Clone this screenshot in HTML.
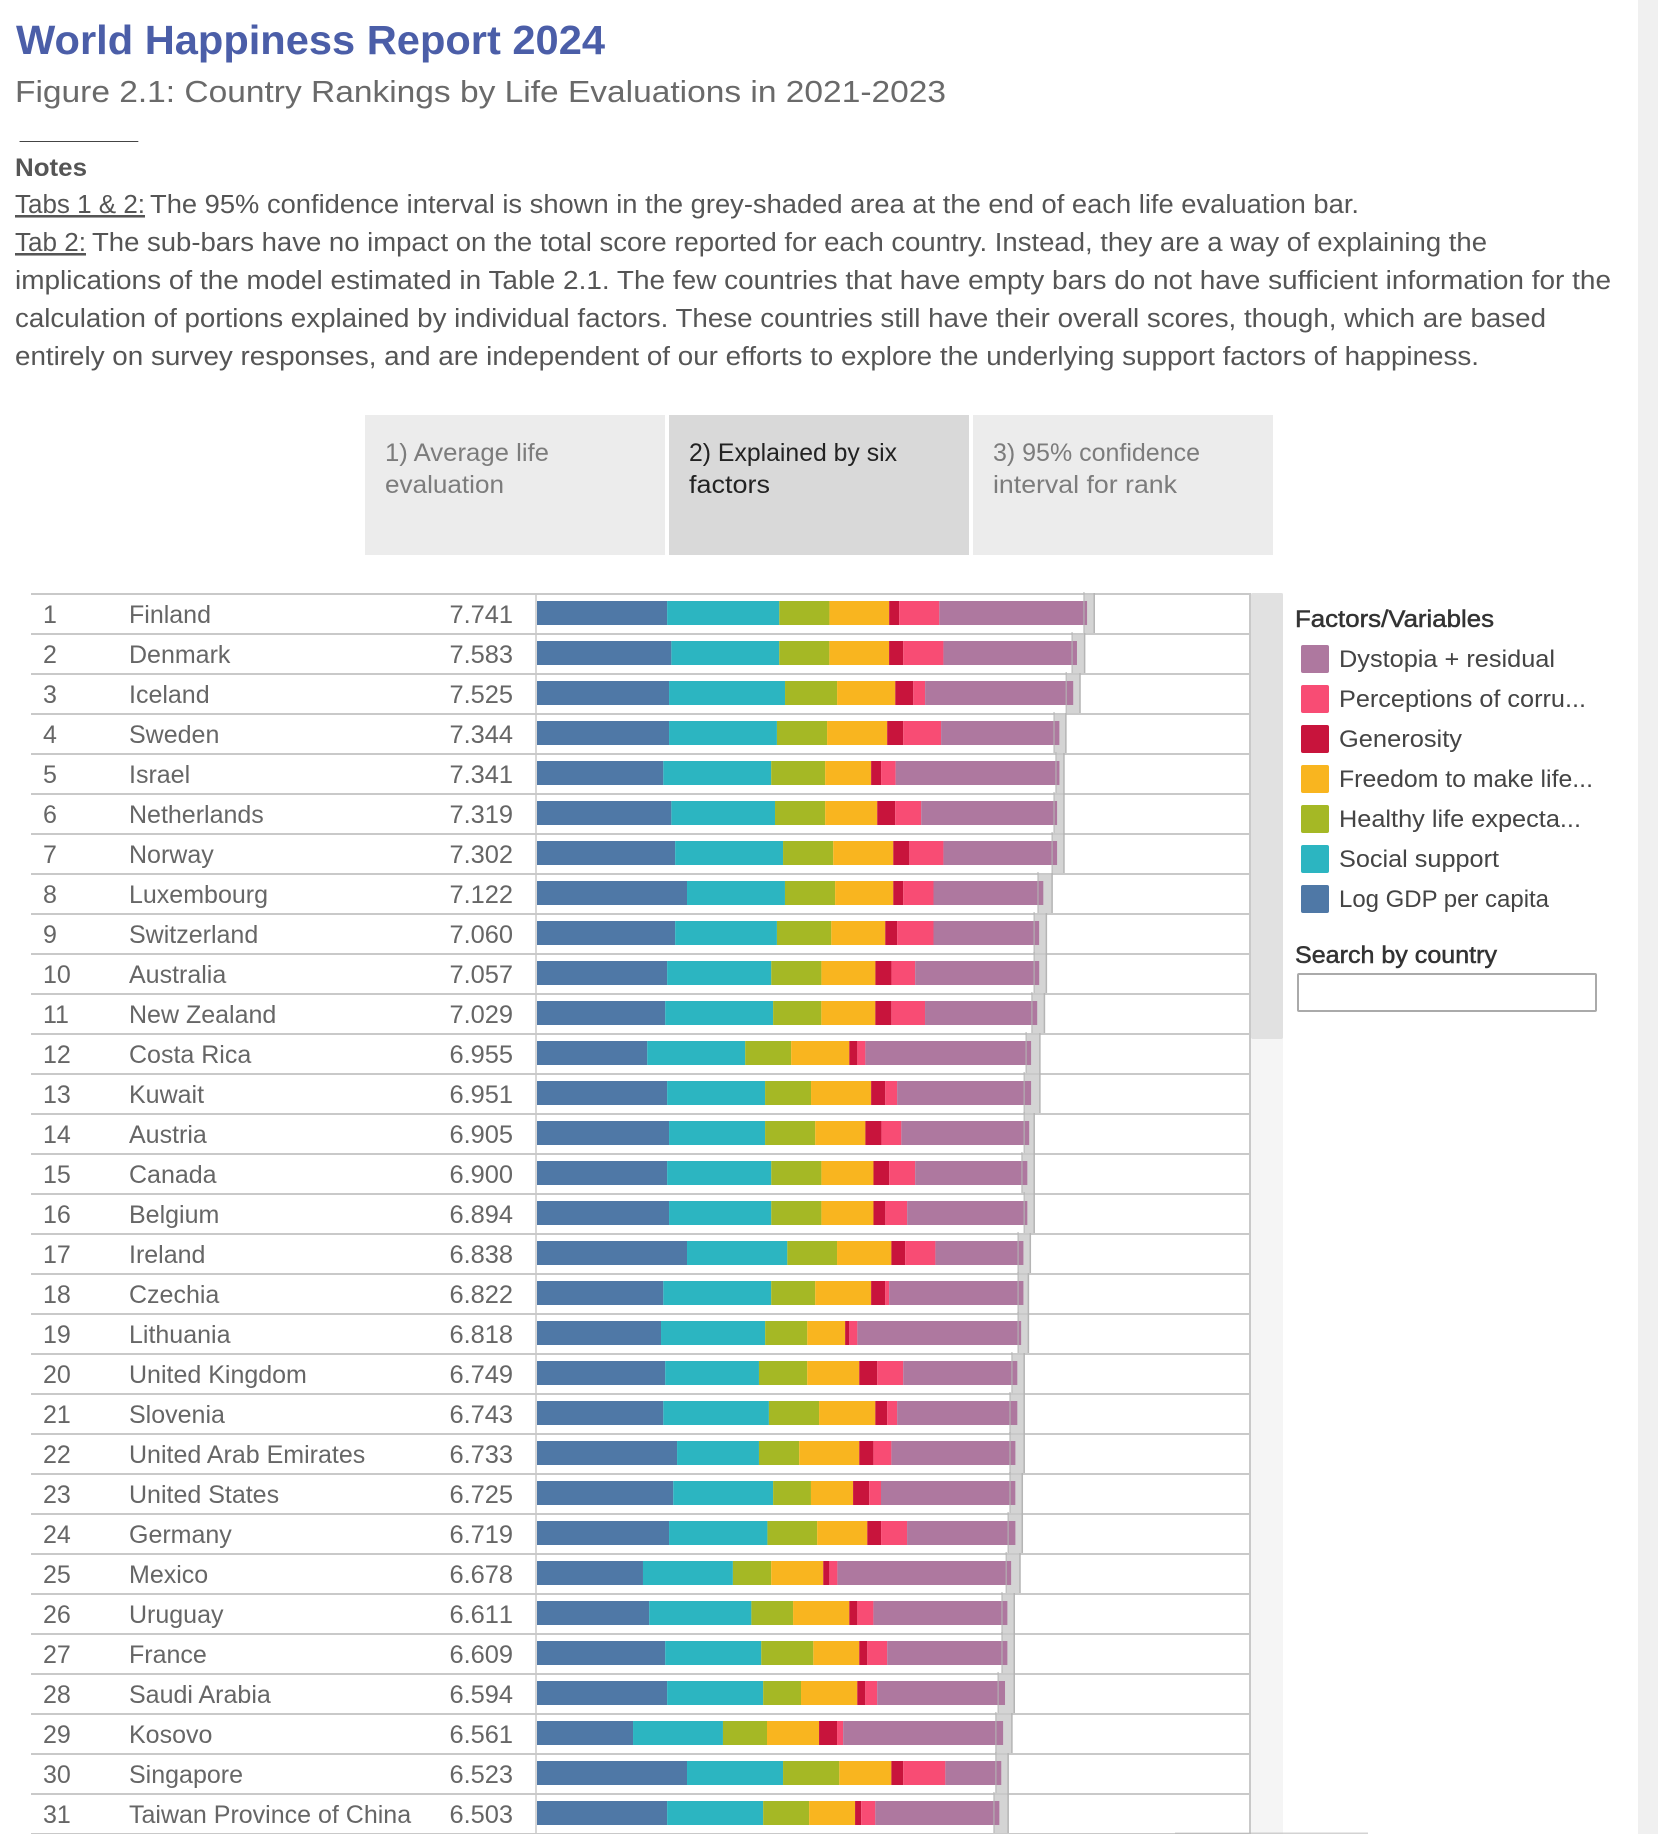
<!DOCTYPE html>
<html lang="en">
<head>
<meta charset="utf-8">
<title>World Happiness Report 2024</title>
<style>
html,body{margin:0;padding:0;background:#fff;}
#page{position:relative;width:1658px;height:1834px;overflow:hidden;background:#fff;font-family:"Liberation Sans",sans-serif;}
#page svg{position:absolute;left:0;top:0;display:block;}
#page svg text{font-family:"Liberation Sans",sans-serif;}
#search-input{position:absolute;left:1297px;top:973px;width:300px;height:39px;box-sizing:border-box;border:2px solid #aaa;border-radius:2px;background:#fff;padding:0 6px;outline:none;font:22px "Liberation Sans",sans-serif;}
</style>
</head>
<body>
<div id="page">
<svg id="chart" width="1658" height="1834" viewBox="0 0 1658 1834" xmlns="http://www.w3.org/2000/svg">
  <rect x="1638" y="0" width="20" height="1834" fill="#f0f0f0"/>

  <text x="16" y="54" font-size="41" font-weight="700" fill="#4b5ea8" textLength="589" lengthAdjust="spacingAndGlyphs">World Happiness Report 2024</text>
  <text x="15" y="102" font-size="31" fill="#6a6a6a" textLength="931" lengthAdjust="spacingAndGlyphs">Figure 2.1: Country Rankings by Life Evaluations in 2021-2023</text>
  <text x="20" y="139" font-size="16" fill="#444" textLength="118" lengthAdjust="spacingAndGlyphs">_______</text>
  <text x="15" y="176" font-size="25" font-weight="700" fill="#555" textLength="72" lengthAdjust="spacingAndGlyphs">Notes</text>

  <g font-size="25.5" fill="#555">
    <text x="15" y="213" text-decoration="underline" textLength="130" lengthAdjust="spacingAndGlyphs">Tabs 1 &amp; 2:</text>
    <text x="150" y="213" textLength="1209" lengthAdjust="spacingAndGlyphs">The 95% confidence interval is shown in the grey-shaded area at the end of each life evaluation bar.</text>
    <text x="15" y="251" text-decoration="underline" textLength="71" lengthAdjust="spacingAndGlyphs">Tab 2:</text>
    <text x="92" y="251" textLength="1395" lengthAdjust="spacingAndGlyphs">The sub-bars have no impact on the total score reported for each country. Instead, they are a way of explaining the</text>
    <text x="15" y="289" textLength="1596" lengthAdjust="spacingAndGlyphs">implications of the model estimated in Table 2.1. The few countries that have empty bars do not have sufficient information for the</text>
    <text x="15" y="327" textLength="1531" lengthAdjust="spacingAndGlyphs">calculation of portions explained by individual factors. These countries still have their overall scores, though, which are based</text>
    <text x="15" y="365" textLength="1464" lengthAdjust="spacingAndGlyphs">entirely on survey responses, and are independent of our efforts to explore the underlying support factors of happiness.</text>
  </g>

  <g>
    <rect x="365" y="415" width="300" height="140" fill="#ececec"/>
    <text x="385" y="461" font-size="25" fill="#7c7c7c" textLength="164" lengthAdjust="spacingAndGlyphs">1) Average life</text>
    <text x="385" y="493" font-size="25" fill="#7c7c7c" textLength="119" lengthAdjust="spacingAndGlyphs">evaluation</text>
  </g>
  <g>
    <rect x="669" y="415" width="300" height="140" fill="#d9d9d9"/>
    <text x="689" y="461" font-size="25" fill="#222" textLength="208" lengthAdjust="spacingAndGlyphs">2) Explained by six</text>
    <text x="689" y="493" font-size="25" fill="#222" textLength="81" lengthAdjust="spacingAndGlyphs">factors</text>
  </g>
  <g>
    <rect x="973" y="415" width="300" height="140" fill="#ececec"/>
    <text x="993" y="461" font-size="25" fill="#7c7c7c" textLength="207" lengthAdjust="spacingAndGlyphs">3) 95% confidence</text>
    <text x="993" y="493" font-size="25" fill="#7c7c7c" textLength="184" lengthAdjust="spacingAndGlyphs">interval for rank</text>
  </g>

  <rect x="1251" y="593" width="32" height="1241" fill="#f5f5f5"/>
  <rect x="1251" y="593" width="32" height="446" rx="2" fill="#e1e1e1"/>

  <g id="plot"></g>

  <text x="1295" y="627" font-size="24" fill="#333" stroke="#333" stroke-width="0.5" textLength="199" lengthAdjust="spacingAndGlyphs">Factors/Variables</text>
  <g id="legend"></g>
  <text x="1295" y="963" font-size="24" fill="#333" stroke="#333" stroke-width="0.5" textLength="202" lengthAdjust="spacingAndGlyphs">Search by country</text>

  <rect x="1175" y="1832.5" width="193" height="1.5" fill="#b5b5b5" opacity="0.6"/>
</svg>
<input id="search-input" type="text" aria-label="Search by country">
</div>

<script>
var countries = ["Finland","Denmark","Iceland","Sweden","Israel","Netherlands","Norway","Luxembourg","Switzerland","Australia","New Zealand","Costa Rica","Kuwait","Austria","Canada","Belgium","Ireland","Czechia","Lithuania","United Kingdom","Slovenia","United Arab Emirates","United States","Germany","Mexico","Uruguay","France","Saudi Arabia","Kosovo","Singapore","Taiwan Province of China"];
var scores = [7.741,7.583,7.525,7.344,7.341,7.319,7.302,7.122,7.060,7.057,7.029,6.955,6.951,6.905,6.900,6.894,6.838,6.822,6.818,6.749,6.743,6.733,6.725,6.719,6.678,6.611,6.609,6.594,6.561,6.523,6.503];
var logGdp = [1.832,1.891,1.859,1.859,1.778,1.891,1.945,2.112,1.945,1.832,1.805,1.552,1.832,1.859,1.832,1.859,2.112,1.778,1.746,1.805,1.778,1.972,1.918,1.859,1.492,1.579,1.805,1.832,1.352,2.112,1.832];
var socialSupport = [1.579,1.519,1.633,1.519,1.519,1.460,1.519,1.379,1.433,1.466,1.519,1.379,1.379,1.352,1.466,1.439,1.412,1.519,1.466,1.320,1.487,1.153,1.406,1.385,1.266,1.439,1.352,1.352,1.266,1.352,1.352];
var healthyLife = [0.706,0.706,0.733,0.706,0.760,0.706,0.706,0.706,0.765,0.706,0.679,0.647,0.647,0.706,0.706,0.706,0.700,0.620,0.593,0.679,0.706,0.566,0.533,0.700,0.539,0.587,0.733,0.533,0.620,0.792,0.647];
var freedom = [0.841,0.841,0.819,0.846,0.647,0.733,0.846,0.819,0.760,0.760,0.760,0.819,0.846,0.706,0.733,0.733,0.765,0.787,0.533,0.733,0.792,0.846,0.593,0.706,0.733,0.792,0.647,0.792,0.733,0.733,0.647];
var generosity = [0.140,0.199,0.253,0.226,0.140,0.253,0.226,0.140,0.167,0.226,0.226,0.113,0.199,0.226,0.221,0.167,0.194,0.199,0.059,0.253,0.167,0.199,0.226,0.194,0.086,0.113,0.113,0.113,0.253,0.167,0.086];
var corruption = [0.566,0.566,0.167,0.533,0.205,0.366,0.480,0.426,0.512,0.334,0.474,0.113,0.167,0.280,0.366,0.307,0.426,0.054,0.113,0.366,0.140,0.253,0.167,0.366,0.113,0.226,0.280,0.167,0.086,0.593,0.199];
var dystopia = [2.080,1.880,2.085,1.665,2.306,1.913,1.600,1.546,1.487,1.746,1.579,2.333,1.886,1.800,1.579,1.692,1.239,1.891,2.306,1.606,1.692,1.746,1.891,1.525,2.446,1.886,1.692,1.800,2.252,0.787,1.746];
var ciLow = [7.700,7.533,7.451,7.279,7.306,7.279,7.252,7.053,6.999,6.999,6.967,6.886,6.859,6.859,6.827,6.859,6.773,6.773,6.773,6.686,6.659,6.659,6.659,6.633,6.606,6.546,6.546,6.492,6.460,6.460,6.433];
var ciHigh = [7.845,7.710,7.645,7.446,7.419,7.419,7.419,7.252,7.171,7.171,7.144,7.080,7.080,7.000,7.000,7.000,6.945,6.918,6.918,6.859,6.859,6.859,6.832,6.832,6.800,6.719,6.719,6.719,6.686,6.633,6.633];
var factorNames = ["Log GDP per capita","Social support","Healthy life expectancy","Freedom to make life choices","Generosity","Perceptions of corruption","Dystopia + residual"];
var factorSlugs = ["log-gdp","social-support","healthy-life","freedom","generosity","corruption","dystopia"];
var legendLabels = ["Dystopia + residual","Perceptions of corru...","Generosity","Freedom to make life...","Healthy life expecta...","Social support","Log GDP per capita"];
var legendWidths = [216,247,123,254,242,160,210];

var factorColors = ["#4f78a6","#2cb5c1","#a5b825","#f9b51f","#c8143c","#f84c74","#ae789f"];
var legendColors = ["#ae789f","#f84c74","#c8143c","#f9b51f","#a5b825","#2cb5c1","#4f78a6"];
var factorSeries = [logGdp, socialSupport, healthyLife, freedom, generosity, corruption, dystopia];

var SVGNS = "http://www.w3.org/2000/svg";
var TABLE_LEFT = 31, AXIS_X = 536, BAR_X0 = 537, TABLE_RIGHT = 1250;
var ROW_TOP = 594, ROW_H = 40, BAR_OFFSET = 7, BAR_H = 24, PX_PER_UNIT = 71.03;

function xScale(v) { return BAR_X0 + v * PX_PER_UNIT; }
function rowY(i) { return ROW_TOP + i * ROW_H; }

function shape(parent, tag, attrs) {
  var el = document.createElementNS(SVGNS, tag);
  for (var k in attrs) { el.setAttribute(k, attrs[k]); }
  parent.appendChild(el);
  return el;
}

var plot = document.getElementById("plot");

countries.forEach(function (name, i) {
  var top = rowY(i);
  var row = shape(plot, "g", {});
  
  

  var lowX = xScale(ciLow[i]);
  var highX = xScale(ciHigh[i]);
  var band = shape(row, "rect", { x: lowX, y: top, width: highX - lowX, height: ROW_H, fill: "#d4d4d4" });
  
  

  var rule = shape(row, "rect", { x: TABLE_LEFT, y: top - 1, width: TABLE_RIGHT - TABLE_LEFT, height: 2, fill: "#c9c9c9" });
  
  

  var cumulative = 0;
  factorSeries.forEach(function (series, f) {
    var startX = xScale(cumulative);
    cumulative += series[i];
    var seg = shape(row, "rect", { x: startX, y: top + BAR_OFFSET, width: xScale(cumulative) - startX, height: BAR_H, fill: factorColors[f] });
    
    
  });

  var lowLine = shape(row, "rect", { x: lowX - 0.75, y: top - 2, width: 1.5, height: ROW_H + 2, fill: "#b5b5b5", opacity: 0.7 });
  
  

  var highLine = shape(row, "rect", { x: highX - 0.75, y: top - 1, width: 1.5, height: ROW_H + 1, fill: "#b5b5b5" });
  
  

  var rankText = shape(row, "text", { x: 43, y: top + 29, "font-size": 25, fill: "#666" });
  rankText.textContent = String(i + 1);
  
  

  var countryText = shape(row, "text", { x: 129, y: top + 29, "font-size": 25, fill: "#666" });
  countryText.textContent = name;
  
  

  var scoreText = shape(row, "text", { x: 513, y: top + 29, "font-size": 25.4, fill: "#666", "text-anchor": "end", style: "font-kerning:none" });
  scoreText.textContent = scores[i].toFixed(3);
  
  
});

var finalRule = shape(plot, "rect", { x: TABLE_LEFT, y: rowY(countries.length) - 1, width: TABLE_RIGHT - TABLE_LEFT, height: 2, fill: "#c9c9c9" });



var axisLine = shape(plot, "rect", { x: AXIS_X - 0.75, y: ROW_TOP, width: 1.5, height: 1834 - ROW_TOP, fill: "#c9c9c9" });



var rightLine = shape(plot, "rect", { x: TABLE_RIGHT - 1, y: ROW_TOP - 1, width: 2, height: 1834 - ROW_TOP + 1, fill: "#c9c9c9" });



var legend = document.getElementById("legend");
legendLabels.forEach(function (label, i) {
  var item = shape(legend, "g", {});
  
  

  var swatch = shape(item, "rect", { x: 1301, y: 645 + i * 40, width: 28, height: 28, rx: 2, fill: legendColors[i] });
  
  

  var text = shape(item, "text", { x: 1339, y: 667 + i * 40, "font-size": 24, fill: "#444", textLength: legendWidths[i], lengthAdjust: "spacingAndGlyphs" });
  text.textContent = label;
  
  
});
</script>
</body>
</html>
